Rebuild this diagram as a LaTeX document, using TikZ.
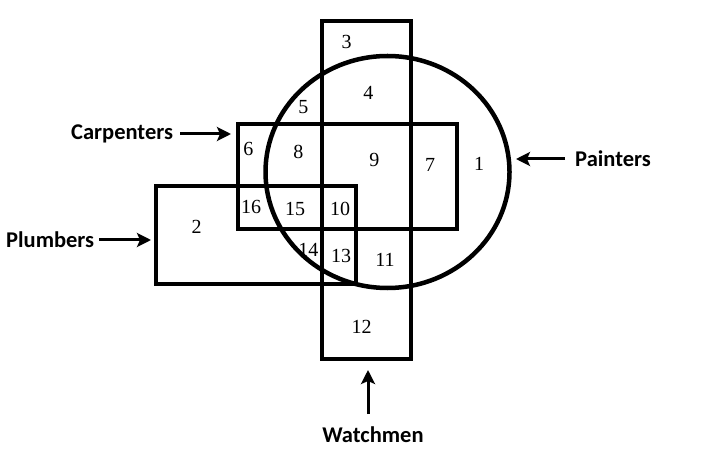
\documentclass[tikz,border=0pt]{standalone}
\usepackage{fontspec}
\setmainfont{Liberation Serif}
\newfontfamily\labfont{Carlito}
\usetikzlibrary{shapes.geometric,arrows.meta}
\begin{document}
\begin{tikzpicture}[x=1pt,y=-1pt,
  region/.style={draw=black,line width=4.5pt,inner sep=0pt,fill=none},
  box/.style={region,rectangle},
  num/.style={font=\fontsize{20}{21}\selectfont,inner sep=0pt},
  lab/.style={font=\labfont\bfseries\fontsize{22.5}{24}\selectfont,inner sep=0pt},
  arr/.style={line width=3pt,-{Stealth[length=14pt,width=14pt,inset=3pt]}}]
\useasboundingbox (0,0) rectangle (706,454);
\fill[white] (0,0) rectangle (706,454);
% shapes
\node[box,minimum width=89pt,minimum height=338pt] (watch) at (366.5,190) {};
\node[region,ellipse,minimum width=244pt,minimum height=232pt] (paint) at (387.5,172) {};
\node[box,minimum width=219pt,minimum height=105pt] (carpbox) at (347.5,176.5) {};
\node[box,minimum width=200pt,minimum height=98pt] (plumbbox) at (256,235) {};
% labels
\node[lab,anchor=west] (carp) at (71,134) {Carpenters};
\node[lab,anchor=west] (plumb) at (6,240) {Plumbers};
\node[lab,anchor=west] (paintl) at (575,159) {Painters};
\node[lab] (watchl) at (373,435) {Watchmen};
% arrows
\coordinate (carptip) at (231,134);
\coordinate (plumbtip) at (151,240);
\coordinate (painttip) at (516,159);
\coordinate (watchtip) at (368,370);
\coordinate (watchtail) at (368,414);
\draw[arr] ([xshift=7pt]carp.east) -- (carptip);
\draw[arr] ([xshift=5pt]plumb.east) -- (plumbtip);
\draw[arr] ([xshift=-10pt]paintl.west) -- (painttip);
\draw[arr] (watchtail) -- (watchtip);
% numbers
\node[num] (n3) at (346.7,41.7) {3};
\node[num] (n4) at (368.3,92.7) {4};
\node[num] (n5) at (303.3,106.7) {5};
\node[num] (n6) at (248.3,149.3) {6};
\node[num] (n8) at (298.3,151.7) {8};
\node[num] (n9) at (374.3,160) {9};
\node[num] (n7) at (430,165) {7};
\node[num] (n1) at (479,164) {1};
\node[num] (n16) at (251,206.7) {16};
\node[num] (n15) at (295,209) {15};
\node[num] (n10) at (340,209) {10};
\node[num] (n2) at (196.7,227.3) {2};
\node[num] (n14) at (308.3,250) {14};
\node[num] (n13) at (341,256) {13};
\node[num] (n11) at (385,260) {11};
\node[num] (n12) at (361.7,326.7) {12};
\end{tikzpicture}
\end{document}
